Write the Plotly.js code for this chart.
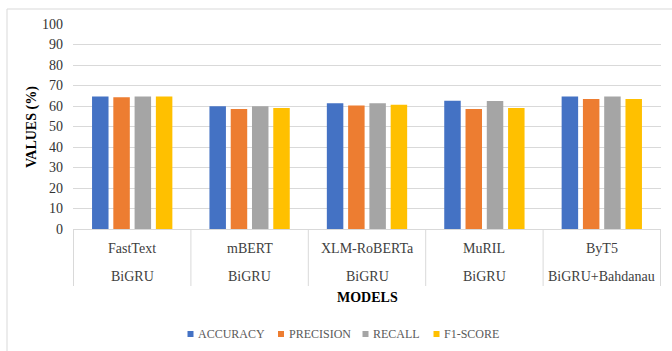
<!DOCTYPE html>
<html>
<head>
<meta charset="utf-8">
<script src="https://cdn.plot.ly/plotly-3.0.1.min.js"></script>
<style>html,body{margin:0;padding:0;background:#fff;}#chart{width:672px;height:351px;}</style>
</head>
<body>
<div id="chart"></div>
<script>
// ---- data ----
var models = ["FastText", "mBERT", "XLM-RoBERTa", "MuRIL", "ByT5"];
var decoders = ["BiGRU", "BiGRU", "BiGRU", "BiGRU", "BiGRU+Bahdanau"];
var seriesNames = ["ACCURACY", "PRECISION", "RECALL", "F1-SCORE"];
var accuracy  = [64.6, 59.9, 61.3, 62.6, 64.6];
var precision = [64.3, 58.5, 60.3, 58.5, 63.4];
var recall    = [64.6, 59.9, 61.3, 62.4, 64.6];
var f1score   = [64.6, 59.0, 60.6, 59.0, 63.4];
var yTicks = [0, 10, 20, 30, 40, 50, 60, 70, 80, 90, 100];

// ---- styling ----
var colors = ["#4472C4", "#ED7D31", "#A5A5A5", "#FFC000"];
var W = 672, H = 351, L = 73, R = 11, T = 24, B = 122;
var PW = W - L - R, PH = H - T - B;
function px2x(px) { return (px - L) / PW; }
function px2y(py) { return (H - B - py) / PH; }
var serif = "Liberation Serif";
var gridCol = "#d9d9d9";

var values = [accuracy, precision, recall, f1score];
var traces = values.map(function (v, i) {
  return {
    type: "bar", x: models, y: v, name: seriesNames[i],
    marker: { color: colors[i] }, showlegend: false, hoverinfo: "x+y+name"
  };
});

var shapes = [];
var annotations = [];
// outer chart border
shapes.push({ type: "rect", xref: "paper", yref: "paper",
  x0: px2x(7), x1: px2x(673), y0: px2y(352), y1: px2y(9),
  line: { color: gridCol, width: 1 }, fillcolor: "rgba(0,0,0,0)", layer: "below" });
// category table dividers
for (var i = 0; i <= models.length; i++) {
  shapes.push({ type: "line", xref: "x", yref: "paper",
    x0: i - 0.5, x1: i - 0.5, y0: 0, y1: px2y(286),
    line: { color: gridCol, width: 1 } });
}
// category labels (two rows)
models.forEach(function (m, i) {
  annotations.push({ xref: "x", yref: "paper", x: m, y: px2y(248), text: m,
    showarrow: false, xanchor: "center", yanchor: "middle",
    font: { family: serif, size: 14, color: "#404040" } });
  annotations.push({ xref: "x", yref: "paper", x: m, y: px2y(276), text: decoders[i],
    showarrow: false, xanchor: "center", yanchor: "middle",
    font: { family: serif, size: 14, color: "#404040" } });
});
// x axis title
annotations.push({ xref: "paper", yref: "paper", x: 0.5, y: px2y(297), text: "<b>MODELS</b>",
  showarrow: false, xanchor: "center", yanchor: "middle",
  font: { family: serif, size: 14, color: "#000" } });
// y axis title
annotations.push({ xref: "paper", yref: "paper", x: px2x(32), y: px2y(127), text: "<b>VALUES (%)</b>",
  showarrow: false, textangle: -90, xanchor: "center", yanchor: "middle",
  font: { family: serif, size: 14, color: "#000" } });
// legend (manual, small square swatches)
var legSw = [187.5, 278, 362.5, 433.5];
seriesNames.forEach(function (n, i) {
  shapes.push({ type: "rect", xref: "paper", yref: "paper",
    x0: px2x(legSw[i]), x1: px2x(legSw[i] + 6), y0: px2y(337), y1: px2y(331),
    fillcolor: colors[i], line: { width: 0 } });
  annotations.push({ xref: "paper", yref: "paper", x: px2x(legSw[i] + 8.5), y: px2y(334), text: n,
    showarrow: false, xanchor: "left", yanchor: "middle",
    font: { family: serif, size: 12, color: "#595959" } });
});

var layout = {
  width: W, height: H,
  margin: { l: L, r: R, t: T, b: B, pad: 0 },
  paper_bgcolor: "#fff", plot_bgcolor: "#fff",
  barmode: "group", bargap: 0.275, bargroupgap: 0.225,
  showlegend: false,
  xaxis: { type: "category", showticklabels: false, showgrid: false, zeroline: false,
    showline: false, ticks: "" },
  yaxis: { range: [0, 100], tickvals: yTicks, ticktext: yTicks.map(String),
    showgrid: true, gridcolor: gridCol, gridwidth: 1,
    zeroline: true, zerolinecolor: gridCol, zerolinewidth: 1,
    showline: false, ticks: "", ticklabelstandoff: 9,
    tickfont: { family: serif, size: 14, color: "#333" } },
  shapes: shapes,
  annotations: annotations,
  font: { family: serif }
};

Plotly.newPlot("chart", traces, layout, { displayModeBar: false, staticPlot: true });
</script>
</body>
</html>
